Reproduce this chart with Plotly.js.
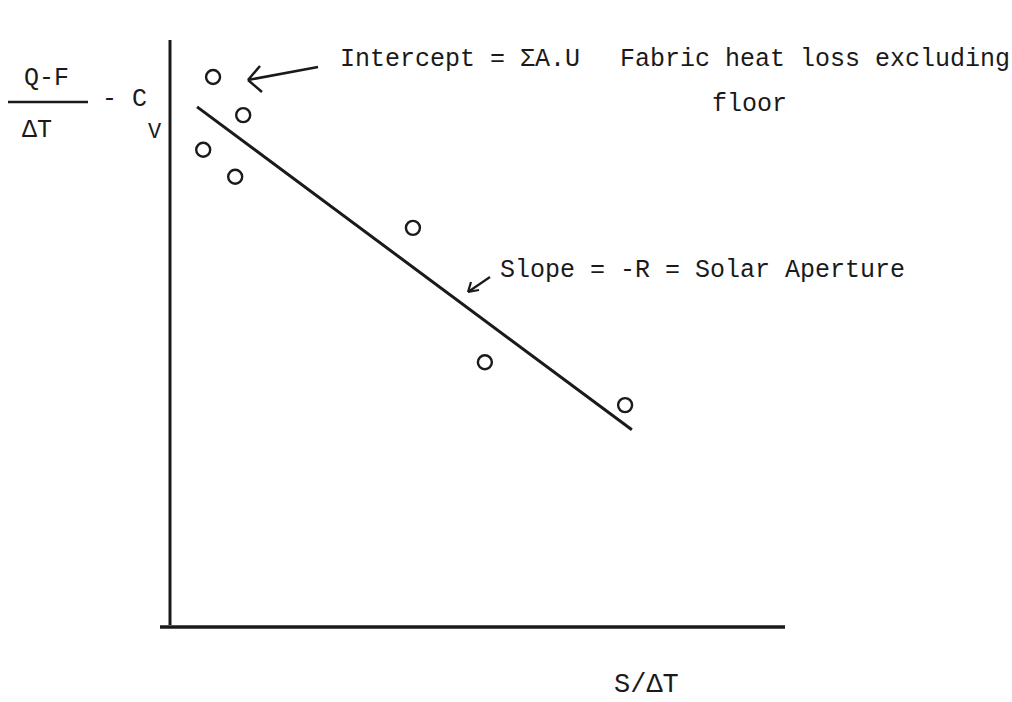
<!DOCTYPE html>
<html><head><meta charset="utf-8">
<script src="https://cdn.plot.ly/plotly-3.0.1.min.js"></script>
<style>body{margin:0;background:#fff}#chart{width:1012px;height:702px}</style>
</head><body><div id="chart"></div>
<script>
// Data (arbitrary units, no scale shown)
const pointsX = [0.70, 1.19, 0.54, 1.06, 3.95, 5.12, 7.40];
const pointsY = [9.37, 8.72, 8.13, 7.67, 6.80, 4.51, 3.78];
const fitX = [0.44, 7.51];
const fitY = [8.86, 3.36];
const labelIntercept = "Intercept = ΣA.U";
const labelFabric1 = "Fabric heat loss excluding";
const labelFabric2 = "floor";
const labelSlope = "Slope = -R = Solar Aperture";
const labelX = "S/ΔT";

const L = 170, R = 785, T = 40, B = 627;
const W = 1012, H = 702;
const px = x => (x - L) / (R - L);
const py = y => (B - y) / (B - T);
const FONT = "Liberation Mono, Courier New, monospace";
const INK = "#1a1a1a";

const traces = [
  {x: fitX, y: fitY, mode: "lines", line: {color: INK, width: 3}, hoverinfo: "skip"},
  {x: pointsX, y: pointsY, mode: "markers",
   marker: {symbol: "circle-open", size: 14, color: INK, line: {width: 2.4, color: INK}}}
];

function ann(text, x, y, size, anchor) {
  return {text: text, xref: "paper", yref: "paper", x: px(x), y: py(y),
    xanchor: anchor || "left", yanchor: "middle", showarrow: false,
    font: {family: FONT, size: size || 25, color: INK}};
}

const annotations = [
  ann(labelIntercept, 338, 59),
  ann(labelFabric1, 618, 59),
  ann(labelFabric2, 710, 105),
  ann(labelSlope, 498, 270),
  ann(labelX, 612, 685, 27),
  ann("Q-F", 22, 78, 25),
  ann("ΔT", 20, 130, 25),
  ann("- C", 100, 100, 25),
  ann("V", 146, 132, 22)
];

function seg(x0, y0, x1, y1, w) {
  return {type: "line", xref: "paper", yref: "paper",
    x0: px(x0), y0: py(y0), x1: px(x1), y1: py(y1),
    line: {color: INK, width: w || 2.5}};
}

const shapes = [
  seg(170, 40, 170, 625, 3),     // y axis
  seg(160, 627, 785, 627, 3.5),  // x axis
  seg(8, 102, 88, 102, 2.5),     // fraction bar
  // intercept arrow
  seg(318, 67, 248, 80, 2.5),
  seg(248, 80, 260, 66, 2.5),
  seg(248, 80, 262, 92, 2.5),
  // slope arrow
  seg(490, 277, 468, 292, 2.2),
  seg(468, 292, 471, 282, 2.2),
  seg(468, 292, 479, 290, 2.2)
];

const layout = {
  width: W, height: H, showlegend: false,
  paper_bgcolor: "#fff", plot_bgcolor: "#fff",
  margin: {l: L, r: W - R, t: T, b: H - B, pad: 0},
  xaxis: {range: [0, 10], showgrid: false, zeroline: false, showticklabels: false, ticks: "", showline: false, fixedrange: true},
  yaxis: {range: [0, 10], showgrid: false, zeroline: false, showticklabels: false, ticks: "", showline: false, fixedrange: true},
  annotations: annotations, shapes: shapes
};
Plotly.newPlot("chart", traces, layout, {displayModeBar: false, staticPlot: true});
</script></body></html>
